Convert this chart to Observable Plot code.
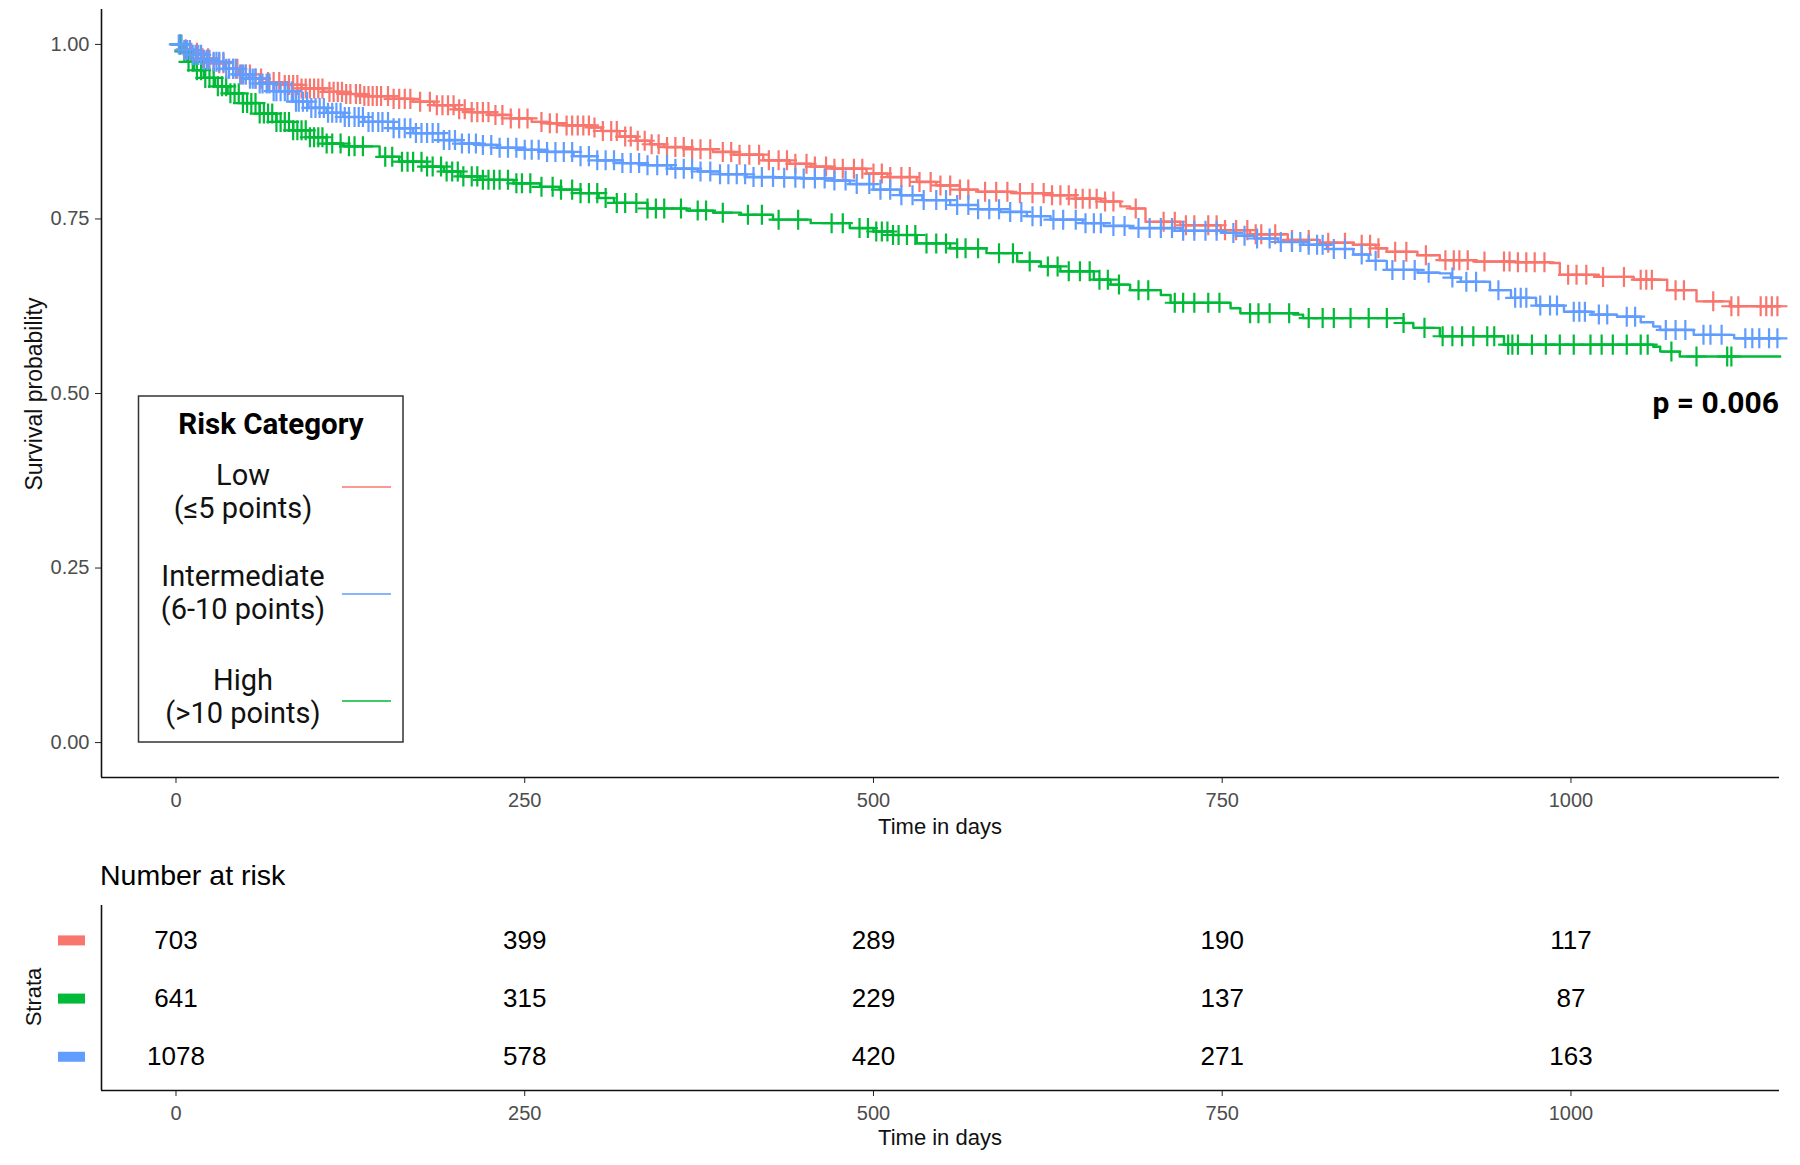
<!DOCTYPE html>
<html>
<head>
<meta charset="utf-8">
<script src="https://cdn.jsdelivr.net/npm/d3@7"></script>
<script src="https://cdn.jsdelivr.net/npm/@observablehq/plot@0.6"></script>
<style>
  html, body { margin: 0; padding: 0; background: #fff; }
  #wrap { position: relative; width: 1800px; height: 1165px; background: #fff; overflow: hidden; }
  #wrap > svg { position: absolute; left: 0; }
  #overlay { position: absolute; left: 0; top: 0; pointer-events: none; }
</style>
</head>
<body>
<div id="wrap"></div>
<script>
// ---------------- DATA ----------------
const strata = ["Low", "High", "Intermediate"];            // drawing / risk-table order
const strataColors = ["#F8766D", "#00BA38", "#619CFF"];
const legendOrder = ["Low", "Intermediate", "High"];
const legendLines = {
  "Low": ["Low", "(≤5 points)"],
  "Intermediate": ["Intermediate", "(6-10 points)"],
  "High": ["High", "(>10 points)"]
};
const xTicks = [0, 250, 500, 750, 1000];
const yTicks = [0, 0.25, 0.5, 0.75, 1];
const pValueText = "p = 0.006";

// Number at risk
const riskTimes = [0, 250, 500, 750, 1000];
const riskLow = [703, 399, 289, 190, 117];
const riskHigh = [641, 315, 229, 137, 87];
const riskIntermediate = [1078, 578, 420, 271, 163];

// Kaplan-Meier steps (time in days, survival)
const lowTime = [0,5,10,18,25,35,45,55,65,77,90,106,120,135,156,170,185,200,212,225,240,255,266,280,297,305,318,330,340,350,365,385,400,421,440,455,470,495,510,531,545,562,575,600,627,645,663,677,684,695,720,749,770,797,820,844,860,868,890,906,930,960,985,992,1020,1045,1069,1090,1114,1150];
const lowSurv = [1,0.993,0.988,0.980,0.973,0.965,0.957,0.951,0.946,0.942,0.937,0.932,0.929,0.926,0.922,0.918,0.913,0.907,0.903,0.899,0.894,0.889,0.887,0.884,0.881,0.876,0.868,0.862,0.857,0.853,0.850,0.846,0.842,0.834,0.829,0.825,0.822,0.815,0.810,0.803,0.798,0.792,0.789,0.787,0.784,0.779,0.775,0.768,0.765,0.746,0.741,0.734,0.728,0.720,0.716,0.713,0.708,0.703,0.698,0.691,0.689,0.688,0.687,0.670,0.667,0.663,0.648,0.632,0.625,0.625];

const intTime = [0,5,12,20,25,35,45,52,60,70,84,95,108,120,135,156,170,192,205,218,230,250,266,285,302,320,338,355,374,390,409,430,448,470,483,500,519,535,555,575,591,610,627,650,665,684,720,749,760,773,790,808,825,844,855,868,890,906,914,921,942,957,975,995,1015,1033,1050,1059,1064,1088,1117,1150];
const intSurv = [1,0.992,0.985,0.978,0.975,0.965,0.957,0.951,0.944,0.933,0.918,0.909,0.902,0.896,0.889,0.880,0.873,0.863,0.858,0.856,0.852,0.849,0.846,0.840,0.834,0.830,0.827,0.822,0.818,0.814,0.810,0.809,0.808,0.805,0.800,0.792,0.784,0.777,0.770,0.764,0.760,0.754,0.749,0.744,0.740,0.737,0.733,0.730,0.726,0.722,0.717,0.713,0.707,0.699,0.690,0.677,0.673,0.672,0.666,0.660,0.648,0.637,0.626,0.617,0.613,0.610,0.602,0.596,0.591,0.584,0.579,0.579];

const highTime = [0,4,8,13,20,28,37,48,60,72,84,96,108,120,146,160,180,192,204,218,242,261,275,290,303,314,338,366,385,405,428,455,483,500,514,531,555,581,603,620,634,658,670,684,706,713,756,763,801,808,880,887,906,952,1059,1064,1078,1150];
const highSurv = [1,0.990,0.975,0.963,0.952,0.940,0.930,0.916,0.901,0.889,0.877,0.867,0.858,0.854,0.839,0.832,0.825,0.818,0.811,0.806,0.801,0.796,0.792,0.787,0.780,0.773,0.765,0.762,0.759,0.756,0.749,0.744,0.737,0.732,0.727,0.715,0.708,0.701,0.689,0.682,0.675,0.663,0.656,0.648,0.641,0.630,0.622,0.615,0.613,0.608,0.601,0.594,0.582,0.570,0.567,0.560,0.553,0.553];

// Censoring times (days)
const lowCensor = [3,7,11,15,19,23,27,31,34,38,41,44,47,50,53,57,61,66,70,74,78,81,84,87,90,93,96,99,102,105,110,113,116,119,122,125,129,132,135,138,141,144,147,152,156,160,164,168,175,182,187,191,195,199,203,207,212,216,220,224,229,234,240,246,252,262,268,273,280,284,288,292,296,300,306,312,316,322,326,331,336,341,346,352,358,364,370,376,383,392,398,404,411,418,425,432,438,444,452,458,466,472,478,486,492,500,506,512,520,526,533,541,548,555,562,568,580,588,596,605,614,622,628,634,640,645,650,655,660,666,672,688,708,716,724,730,740,746,752,760,768,774,778,788,800,812,826,838,850,856,862,874,882,896,910,916,920,926,938,952,956,962,968,974,981,998,1004,1011,1023,1038,1050,1054,1058,1075,1081,1102,1115,1120,1136,1140,1144,1148];
const intCensor = [2,4,6,8,10,12,14,16,18,20,22,24,27,29,31,34,36,38,41,43,46,48,50,53,55,57,60,62,65,67,70,72,75,78,80,83,86,88,91,94,97,100,103,106,109,112,115,118,121,124,128,131,134,138,141,145,148,152,156,160,164,168,172,176,180,184,188,192,196,200,205,210,215,220,226,232,238,244,250,255,260,266,272,278,284,290,296,302,308,314,320,326,332,338,345,352,358,364,370,376,383,390,396,402,408,414,420,428,436,444,450,458,465,472,480,488,497,505,512,520,528,536,545,552,560,568,575,583,590,598,606,614,620,629,636,645,652,658,663,672,680,690,698,706,714,722,730,738,746,758,766,775,784,792,800,806,812,818,822,830,838,850,860,872,880,888,898,915,925,932,948,960,964,968,978,985,990,1002,1006,1010,1020,1026,1040,1046,1068,1075,1082,1095,1100,1108,1125,1130,1135,1142,1148];
const highCensor = [3,6,9,12,15,18,21,24,27,30,33,36,39,42,45,48,51,54,57,60,63,66,69,72,75,78,81,84,87,90,93,96,99,102,105,108,112,118,124,128,134,150,155,162,166,170,176,180,184,190,194,198,202,206,212,216,220,224,228,232,238,244,248,254,262,270,276,284,290,296,302,308,316,322,330,338,344,350,362,374,380,392,410,420,432,446,470,478,490,496,502,506,510,514,518,524,530,538,545,552,560,566,575,590,600,612,625,632,640,648,655,662,668,676,690,697,716,722,730,740,748,770,776,784,798,812,822,830,842,855,868,880,895,908,915,922,930,940,945,955,958,962,972,982,992,1002,1014,1022,1030,1040,1050,1055,1072,1090,1112,1115];

// ---------------- BUILD TABLES ----------------
const steps = {
  "Low": {time: lowTime, surv: lowSurv, censor: lowCensor},
  "High": {time: highTime, surv: highSurv, censor: highCensor},
  "Intermediate": {time: intTime, surv: intSurv, censor: intCensor}
};
const curveRows = [];
const censorRows = [];
for (const s of strata) {
  const {time, surv, censor} = steps[s];
  time.forEach((t, i) => curveRows.push({stratum: s, time: t, surv: surv[i]}));
  for (const c of censor) {
    const i = d3.bisectRight(time, c) - 1;
    censorRows.push({stratum: s, time: c, surv: surv[Math.max(0, i)]});
  }
}
const riskCounts = {"Low": riskLow, "High": riskHigh, "Intermediate": riskIntermediate};
const riskRows = [];
strata.forEach((s, row) => riskTimes.forEach((t, j) => riskRows.push({stratum: s, row, time: t, n: String(riskCounts[s][j])})));

// ---------------- PLOTS ----------------
const W = 1800;
const xDomain = [-53.4, 1149.5];
const yDomain = [-0.05, 1.05];
const riskYDomain = [2.58, -0.6];
const tickFont = "'Liberation Sans', Arial, sans-serif";
const color = {domain: strata, range: strataColors};

const main = Plot.plot({
  width: W, height: 850,
  marginTop: 9, marginBottom: 73, marginLeft: 101, marginRight: 21,
  x: {domain: xDomain},
  y: {domain: yDomain},
  color,
  style: {fontFamily: tickFont, fontSize: "20px", background: "transparent", overflow: "visible"},
  marks: [
    Plot.axisY({ticks: yTicks, tickFormat: d3.format(".2f"), tickSize: 6, tickPadding: 6, fill: "#4D4D4D", stroke: "#222", label: null, fontSize: 20}),
    Plot.axisX({ticks: xTicks, tickFormat: d => String(d), tickSize: 6, tickPadding: 9, fill: "#4D4D4D", stroke: "#222", label: null, fontSize: 20}),
    Plot.ruleX([xDomain[0]], {stroke: "#111", strokeWidth: 1.6}),
    Plot.ruleY([yDomain[0]], {stroke: "#111", strokeWidth: 1.6}),
    Plot.line(curveRows, {x: "time", y: "surv", z: "stratum", stroke: "stratum", curve: "step-after", strokeWidth: 2.4}),
    Plot.dot(censorRows, {x: "time", y: "surv", stroke: "stratum", symbol: "plus", r: 6.5, strokeWidth: 2.2})
  ]
});
main.style.top = "0px";
document.getElementById("wrap").appendChild(main);

const rectSymbol = {draw(ctx) { ctx.rect(-13.5, -5, 27, 10); }};
const table = Plot.plot({
  width: W, height: 315,
  marginTop: 55, marginBottom: 75, marginLeft: 101, marginRight: 21,
  x: {domain: xDomain},
  y: {domain: riskYDomain, axis: null},
  color,
  style: {fontFamily: tickFont, fontSize: "20px", background: "transparent", overflow: "visible"},
  marks: [
    Plot.axisX({ticks: xTicks, tickFormat: d => String(d), tickSize: 6, tickPadding: 9, fill: "#4D4D4D", stroke: "#222", label: null, fontSize: 20}),
    Plot.ruleX([xDomain[0]], {stroke: "#111", strokeWidth: 1.6}),
    Plot.ruleY([riskYDomain[0]], {stroke: "#111", strokeWidth: 1.6}),
    Plot.text(riskRows, {x: "time", y: "row", text: "n", fill: "#000", fontSize: 26}),
    Plot.dot(strata, {y: (d, i) => i, frameAnchor: "left", dx: -30, symbol: rectSymbol, fill: d => d, stroke: null})
  ]
});
table.style.top = "850px";
document.getElementById("wrap").appendChild(table);

// ---------------- TEXT OVERLAY (titles, legend, p-value) ----------------
const ov = d3.select("#wrap").append("svg")
  .attr("id", "overlay").attr("width", W).attr("height", 1165);
const sans = "'Liberation Sans', Arial, sans-serif";
const roboto = "Roboto, 'Noto Sans', sans-serif";

ov.append("text").attr("transform", "translate(34,394) rotate(-90)")
  .attr("text-anchor", "middle").attr("dominant-baseline", "central")
  .style("font", `23px ${sans}`).attr("fill", "#111").text("Survival probability");
ov.append("text").attr("x", 940).attr("y", 834).attr("text-anchor", "middle")
  .style("font", `22px ${sans}`).attr("fill", "#111").text("Time in days");
ov.append("text").attr("x", 1779).attr("y", 413).attr("text-anchor", "end")
  .style("font", `bold 30px ${roboto}`).attr("fill", "#000").text(pValueText);

// legend box
const lg = ov.append("g");
lg.append("rect").attr("x", 138.5).attr("y", 396).attr("width", 264.5).attr("height", 346)
  .attr("fill", "#fff").attr("stroke", "#333").attr("stroke-width", 1.5);
lg.append("text").attr("x", 271).attr("y", 434).attr("text-anchor", "middle")
  .style("font", `bold 29.5px ${roboto}`).attr("fill", "#000").text("Risk Category");
const legendBase = [485, 586, 690];
const legendLineY = [487, 594, 701];
legendOrder.forEach((s, i) => {
  const [l1, l2] = legendLines[s];
  lg.append("text").attr("x", 243).attr("y", legendBase[i]).attr("text-anchor", "middle")
    .style("font", `29px ${roboto}`).attr("fill", "#111").text(l1);
  lg.append("text").attr("x", 243).attr("y", legendBase[i] + 33).attr("text-anchor", "middle")
    .style("font", `29px ${roboto}`).attr("fill", "#111").text(l2);
  lg.append("line").attr("x1", 342).attr("x2", 391).attr("y1", legendLineY[i]).attr("y2", legendLineY[i])
    .attr("stroke", strataColors[strata.indexOf(s)]).attr("stroke-width", 1.6);
});

// risk table titles
ov.append("text").attr("x", 100).attr("y", 885)
  .style("font", `28.5px ${sans}`).attr("fill", "#000").text("Number at risk");
ov.append("text").attr("transform", "translate(33,997) rotate(-90)")
  .attr("text-anchor", "middle").attr("dominant-baseline", "central")
  .style("font", `22px ${sans}`).attr("fill", "#111").text("Strata");
ov.append("text").attr("x", 940).attr("y", 1145).attr("text-anchor", "middle")
  .style("font", `22px ${sans}`).attr("fill", "#111").text("Time in days");
</script>
</body>
</html>
